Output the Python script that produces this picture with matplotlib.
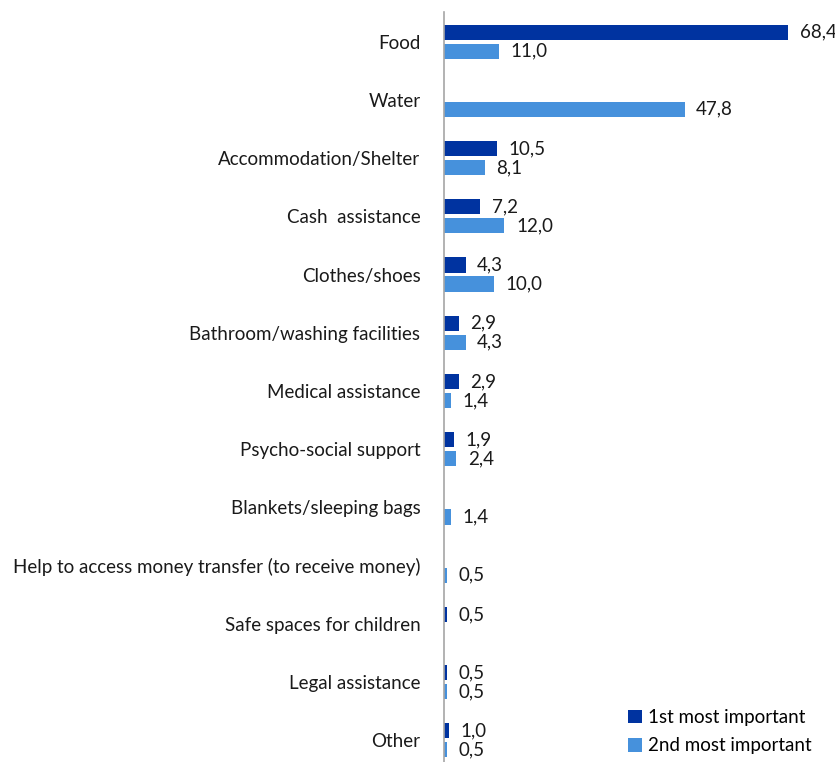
import matplotlib.pyplot as plt
import numpy as np
from matplotlib.patches import Patch

plt.rcParams["font.family"] = ["Lato", "DejaVu Sans"]

categories = [
    "Food",
    "Water",
    "Accommodation/Shelter",
    "Cash  assistance",
    "Clothes/shoes",
    "Bathroom/washing facilities",
    "Medical assistance",
    "Psycho-social support",
    "Blankets/sleeping bags",
    "Help to access money transfer (to receive money)",
    "Safe spaces for children",
    "Legal assistance",
    "Other",
]
first_most = [68.4, np.nan, 10.5, 7.2, 4.3, 2.9, 2.9, 1.9, np.nan, np.nan, 0.5, 0.5, 1.0]
second_most = [11.0, 47.8, 8.1, 12.0, 10.0, 4.3, 1.4, 2.4, 1.4, 0.5, np.nan, 0.5, 0.5]
series_names = ["1st most important", "2nd most important"]

DARK = "#0033A0"
LIGHT = "#4691DC"
FS = 13.5

fig = plt.figure(figsize=(8.35, 7.62), dpi=100)
ax = fig.add_axes([444 / 835, 1 - 769.6 / 762, 391 / 835, 757.2 / 762])

y = np.arange(len(categories))
h = 0.258
off = 0.163


def fmt(v):
    return f"{v:.1f}".replace(".", ",")


# dark bars sit above, light bars below each category centre
for vals, shift, color in ((first_most, -off, DARK), (second_most, off, LIGHT)):
    vals = np.asarray(vals, dtype=float)
    mask = ~np.isnan(vals)
    ax.barh(y[mask] + shift, vals[mask], height=h, color=color)
    for yy, v in zip(y[mask] + shift, vals[mask]):
        ax.text(v + 2.3, yy, fmt(v), va="center", ha="left", fontsize=FS,
                color="#1a1a1a", clip_on=False)

ax.set_xlim(0, 77.7)
ax.set_ylim(len(categories) - 0.5, -0.5)
ax.set_yticks(y)
ax.set_yticklabels(categories, fontsize=FS, color="#1a1a1a")
ax.tick_params(axis="y", length=0, pad=17)
ax.set_xticks([])
for side in ("top", "right", "bottom"):
    ax.spines[side].set_visible(False)
ax.spines["left"].set_color("#a6a6a6")
ax.spines["left"].set_linewidth(1.2)

handles = [Patch(facecolor=DARK), Patch(facecolor=LIGHT)]
fig.legend(handles, series_names, loc="lower left",
           bbox_to_anchor=(611 / 835, -0.012),
           frameon=False, fontsize=FS, handlelength=0.75, handleheight=0.75,
           handletextpad=0.35, labelspacing=0.6)

fig.savefig("out.png", dpi=100)
